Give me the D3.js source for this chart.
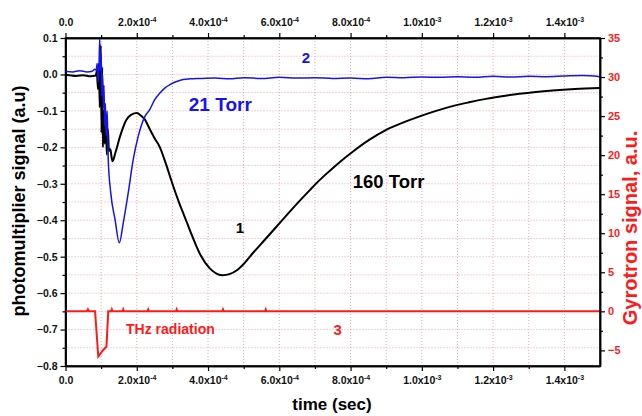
<!DOCTYPE html>
<html>
<head>
<meta charset="utf-8">
<script src="https://cdn.jsdelivr.net/npm/d3@7"></script>
<style>
  html, body { margin: 0; padding: 0; background: #fff; }
  svg { display: block; font-family: Arial, "Liberation Sans", sans-serif; }
</style>
</head>
<body>
<div id="chart"></div>
<script>
//Chart size and plot box
const width = 642;
const height = 416;
const plot = { left: 65.5, right: 600, top: 38, bottom: 366 };

//Time values are in units of 1e-4 s
const unit = 1e-4;

//Curve 1 : 160 Torr (left axis)
const torr160Time = [0, 0.3, 0.5, 0.7, 0.85, 0.88, 0.91, 0.94, 0.96, 0.99, 1.01, 1.03, 1.05, 1.07, 1.10, 1.13, 1.16, 1.19, 1.22, 1.26, 1.29, 1.32, 1.40, 1.53, 1.71, 1.85, 2.00, 2.12, 2.23, 2.37, 2.50, 2.65, 2.80, 3.00, 3.20, 3.35, 3.50, 3.77, 4.05, 4.25, 4.42, 4.60, 4.80, 5.00, 5.26, 5.60, 5.92, 6.29, 6.57, 6.85, 7.13, 7.42, 7.70, 8.06, 8.50, 9.00, 9.50, 9.94, 10.40, 10.86, 11.30, 11.80, 12.30, 12.74, 13.20, 13.67, 14.30, 15.00];
const torr160Signal = [0.000, -0.004, -0.002, -0.005, -0.003, 0.010, -0.040, 0.030, -0.090, 0.080, -0.160, 0.020, -0.200, -0.100, -0.190, -0.130, -0.220, -0.150, -0.210, -0.205, -0.225, -0.238, -0.215, -0.170, -0.124, -0.110, -0.106, -0.113, -0.124, -0.151, -0.175, -0.200, -0.240, -0.300, -0.355, -0.392, -0.430, -0.492, -0.532, -0.547, -0.551, -0.548, -0.538, -0.520, -0.490, -0.453, -0.418, -0.377, -0.347, -0.318, -0.290, -0.264, -0.240, -0.212, -0.181, -0.152, -0.131, -0.115, -0.100, -0.087, -0.077, -0.067, -0.059, -0.053, -0.048, -0.044, -0.040, -0.037];

//Curve 2 : 21 Torr (left axis)
const torr21Time = [0, 0.2, 0.4, 0.6, 0.75, 0.82, 0.86, 0.89, 0.92, 0.94, 0.96, 0.98, 1.00, 1.02, 1.04, 1.06, 1.08, 1.10, 1.12, 1.14, 1.17, 1.20, 1.27, 1.39, 1.51, 1.62, 1.76, 1.90, 2.04, 2.23, 2.36, 2.50, 2.65, 2.80, 2.93, 3.10, 3.30, 3.50, 3.77, 4.20, 4.60, 5.00, 5.50, 6.00, 6.50, 7.00, 7.50, 8.00, 8.50, 9.00, 9.50, 10.00, 10.50, 11.00, 11.50, 12.00, 12.50, 13.00, 13.50, 14.00, 14.50, 15.00];
const torr21Signal = [0.009, 0.007, 0.010, 0.007, 0.009, 0.014, 0.012, 0.030, -0.020, 0.020, 0.098, 0.010, 0.060, -0.060, 0.000, -0.090, -0.030, -0.140, -0.080, -0.170, -0.100, -0.234, -0.325, -0.398, -0.462, -0.408, -0.325, -0.234, -0.170, -0.115, -0.097, -0.070, -0.051, -0.036, -0.028, -0.020, -0.014, -0.012, -0.011, -0.010, -0.012, -0.009, -0.011, -0.008, -0.010, -0.009, -0.011, -0.010, -0.012, -0.008, -0.009, -0.007, -0.008, -0.006, -0.008, -0.005, -0.007, -0.005, -0.006, -0.004, -0.003, -0.006];

//Curve 3 : gyrotron THz radiation (right axis)
const gyroTime = [0, 0.60, 0.63, 0.66, 0.83, 0.92, 1.06, 1.15, 1.20, 1.28, 1.30, 1.32, 1.60, 1.62, 1.64, 2.30, 2.32, 2.34, 3.10, 3.12, 3.14, 4.40, 4.42, 4.44, 5.60, 5.62, 5.64, 15.00];
const gyroSignal = [0, 0, 0.25, 0, 0, -5.8, -4.95, -4.5, 0, 0, 0.25, 0, 0, 0.25, 0, 0, 0.25, 0, 0, 0.25, 0, 0, 0.25, 0, 0, 0.25, 0, 0];

//Axis ticks
const xMajorTicks = [0, 2, 4, 6, 8, 10, 12, 14];
const xMinorTicks = [1, 3, 5, 7, 9, 11, 13];
const leftMajorTicks = [-0.8, -0.7, -0.6, -0.5, -0.4, -0.3, -0.2, -0.1, 0.0, 0.1];
const leftMinorTicks = [-0.75, -0.65, -0.55, -0.45, -0.35, -0.25, -0.15, -0.05, 0.05];
const rightMajorTicks = [-5, 0, 5, 10, 15, 20, 25, 30, 35];
const rightMinorTicks = [-2.5, 2.5, 7.5, 12.5, 17.5, 22.5, 27.5, 32.5];

//Annotations: [text, time (1e-4 s), left-axis value, color, size]
const notes = [
    ["2", 6.63, 0.032, "#1414f0", 15],
    ["21 Torr", 3.46, -0.101, "#1414f0", 19],
    ["160 Torr", 8.06, -0.311, "#000", 18.5],
    ["1", 4.78, -0.434, "#000", 15],
    ["THz radiation", 1.70, -0.711, "#ff1a1a", 14],
    ["3", 7.52, -0.714, "#ff1a1a", 15]
];

const red = "#ff1a1a";
const blue = "#1414f0";

//Scales
const xscale = d3.scaleLinear().domain([0, 15 * unit]).range([plot.left, plot.right]);
const yLeft = d3.scaleLinear().domain([-0.8, 0.1]).range([plot.bottom, plot.top]);
const yRight = d3.scaleLinear().domain([-7, 35]).range([plot.bottom, plot.top]);

const svg = d3.select("#chart").append("svg").attr("width", width).attr("height", height);

//Pink dotted grid
const grid = svg.append("g").attr("stroke", "#f5a3a3").attr("stroke-width", 1).attr("stroke-dasharray", "1,2");
grid.selectAll("line.v").data(xMajorTicks.concat(xMinorTicks).filter(d => d > 0))
    .enter().append("line")
    .attr("x1", d => xscale(d * unit)).attr("x2", d => xscale(d * unit))
    .attr("y1", plot.top).attr("y2", plot.bottom);
grid.selectAll("line.h").data(leftMajorTicks.concat(leftMinorTicks).filter(d => d > -0.79 && d < 0.09))
    .enter().append("line")
    .attr("x1", plot.left).attr("x2", plot.right)
    .attr("y1", d => yLeft(d)).attr("y2", d => yLeft(d));

//Labels like 2.0x10^-4
const sciLabel = function (d) {
    const text = d3.select(this).text(null);
    const v = d * unit;
    if (v === 0) { text.text("0.0"); return; }
    const exp = Math.floor(Math.log10(v) + 1e-9);
    const mant = (v / Math.pow(10, exp)).toFixed(1);
    text.append("tspan").text(mant + "x10");
    text.append("tspan").attr("font-size", "7px").attr("dy", "-4").text(exp);
};

const styleAxis = g => {
    g.select(".domain").attr("stroke", "#000").attr("stroke-width", 1.5);
    g.selectAll(".tick line").attr("stroke", "#000").attr("stroke-width", 1.2);
    g.selectAll(".tick text").attr("font-family", "Arial, 'Liberation Sans', sans-serif").attr("font-weight", "bold").attr("font-size", "10.5px").attr("fill", "#111");
};

//Minor ticks first
svg.append("g").attr("transform", `translate(0, ${plot.bottom})`)
    .call(d3.axisBottom(xscale).tickValues(xMinorTicks.map(d => d * unit)).tickSize(3).tickSizeOuter(0).tickFormat(""))
    .call(styleAxis);
svg.append("g").attr("transform", `translate(0, ${plot.top})`)
    .call(d3.axisTop(xscale).tickValues(xMinorTicks.map(d => d * unit)).tickSize(3).tickSizeOuter(0).tickFormat(""))
    .call(styleAxis);
svg.append("g").attr("transform", `translate(${plot.left}, 0)`)
    .call(d3.axisLeft(yLeft).tickValues(leftMinorTicks).tickSize(3).tickSizeOuter(0).tickFormat(""))
    .call(styleAxis);
svg.append("g").attr("transform", `translate(${plot.right}, 0)`)
    .call(d3.axisRight(yRight).tickValues(rightMinorTicks).tickSize(3).tickSizeOuter(0).tickFormat(""))
    .call(styleAxis);

//Major x axes (bottom and top)
svg.append("g").attr("id", "x-axis").attr("transform", `translate(0, ${plot.bottom})`)
    .call(d3.axisBottom(xscale).tickValues(xMajorTicks.map(d => d * unit)).tickSize(5).tickSizeOuter(0).tickPadding(6))
    .call(styleAxis)
    .selectAll(".tick text").each(function (d) { sciLabel.call(this, Math.round(d / unit)); });
svg.append("g").attr("id", "x-axis-top").attr("transform", `translate(0, ${plot.top})`)
    .call(d3.axisTop(xscale).tickValues(xMajorTicks.map(d => d * unit)).tickSize(5).tickSizeOuter(0).tickPadding(7))
    .call(styleAxis)
    .selectAll(".tick text").each(function (d) { sciLabel.call(this, Math.round(d / unit)); });

//Left axis
svg.append("g").attr("id", "y-axis").attr("transform", `translate(${plot.left}, 0)`)
    .call(d3.axisLeft(yLeft).tickValues(leftMajorTicks).tickSize(5).tickSizeOuter(0).tickPadding(3).tickFormat(d3.format(".1f")))
    .call(styleAxis);

//Right axis (red labels)
svg.append("g").attr("id", "y-axis-right").attr("transform", `translate(${plot.right}, 0)`)
    .call(d3.axisRight(yRight).tickValues(rightMajorTicks).tickSize(5).tickSizeOuter(0).tickPadding(3).tickFormat(d3.format("d")))
    .call(styleAxis)
    .selectAll(".tick text").attr("fill", red).attr("font-size", "11px");

//Curves
const lineLeft = d3.line().x(d => xscale(d[0] * unit)).y(d => yLeft(d[1])).curve(d3.curveMonotoneX);
const lineRight = d3.line().x(d => xscale(d[0] * unit)).y(d => yRight(d[1])).curve(d3.curveLinear);

svg.append("path").datum(gyroTime.map((t, i) => [t, gyroSignal[i]]))
    .attr("d", lineRight).attr("fill", "none").attr("stroke", red).attr("stroke-width", 2);
svg.append("path").datum(torr160Time.map((t, i) => [t, torr160Signal[i]]))
    .attr("d", lineLeft).attr("fill", "none").attr("stroke", "#000").attr("stroke-width", 2);
svg.append("path").datum(torr21Time.map((t, i) => [t, torr21Signal[i]]))
    .attr("d", lineLeft).attr("fill", "none").attr("stroke", blue).attr("stroke-width", 1.5);

//Frame on top
svg.append("rect").attr("x", plot.left).attr("y", plot.top)
    .attr("width", plot.right - plot.left).attr("height", plot.bottom - plot.top)
    .attr("fill", "none").attr("stroke", "#000").attr("stroke-width", 1.5);

//Annotations
svg.selectAll("text.note").data(notes).enter().append("text")
    .attr("class", "note")
    .attr("x", d => xscale(d[1] * unit)).attr("y", d => yLeft(d[2]))
    .attr("fill", d => d[3]).attr("font-size", d => d[4] + "px").attr("font-weight", "bold")
    .text(d => d[0]);

//Axis titles
svg.append("text").attr("transform", `translate(25, ${(plot.top + plot.bottom) / 2 - 1}) rotate(-90)`)
    .attr("text-anchor", "middle").attr("font-size", "18px").attr("font-weight", "bold").attr("fill", "#000")
    .text("photomultiplier signal (a.u)");
svg.append("text").attr("transform", `translate(637, 228) rotate(-90)`)
    .attr("text-anchor", "middle").attr("font-size", "20px").attr("font-weight", "bold").attr("fill", red)
    .text("Gyrotron signal, a.u.");
svg.append("text").attr("x", 332).attr("y", 410)
    .attr("text-anchor", "middle").attr("font-size", "17px").attr("font-weight", "bold").attr("fill", "#000")
    .text("time (sec)");
</script>
</body>
</html>
